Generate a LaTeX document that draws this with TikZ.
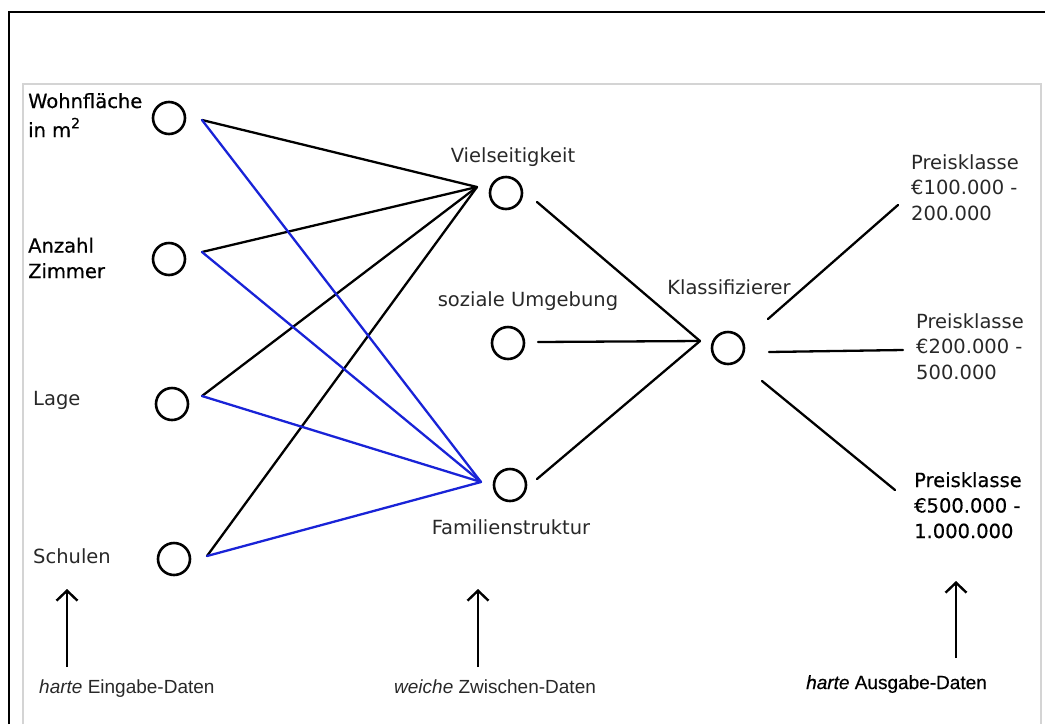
\documentclass[tikz,border=0pt]{standalone}
\usepackage{fontspec}
\setmainfont{DejaVu Sans}
\newfontfamily\heavyfont[FakeBold=0.5]{DejaVu Sans}
\newfontfamily\capfont{Liberation Sans}
\newfontfamily\heavycapfont[FakeBold=0.6]{Liberation Sans}
\usetikzlibrary{arrows.meta}
\definecolor{wireblue}{RGB}{25,35,215}
\definecolor{labelgray}{RGB}{40,40,40}
\definecolor{framegray}{RGB}{212,212,212}
\newcommand{\sqm}{m\raisebox{0.45em}{\fontsize{14}{14}\selectfont 2}}

\begin{document}
\begin{tikzpicture}[x=1pt,y=-1pt,
  nodes={font=\fontsize{19.5}{25.5}\selectfont, text=labelgray},
  unit/.style={draw=black,circle,line width=2.6pt,minimum size=32pt,inner sep=0pt},
  lbl/.style={inner sep=0pt,align=left},
  heavy/.style={text=black,font=\fontsize{19.5}{25.5}\heavyfont},
  caption/.style={font=\fontsize{19}{22}\capfont},
  wire/.style={line width=2.3pt,line cap=round},
  upmark/.style={line width=2.4pt,-{Straight Barb[length=10pt,width=21pt]}}]
\useasboundingbox (0,0) rectangle (1045,724);
% frames
\draw[framegray,line width=1.8pt] (23,724) -- (23,84) -- (1041,84) -- (1041,724);
\draw[black,line width=2.4pt] (9,724) -- (9,12) -- (1045,12);

% input layer
\node[unit] (wohn) at (169,118) {};
\node[unit] (zimm) at (169,259) {};
\node[unit] (lage) at (172,404) {};
\node[unit] (schul) at (174,559) {};
\node[lbl,heavy,anchor=base west] (wohn-t) at (28,108) {Wohnfläche};
\node[lbl,heavy,anchor=base west] (wohn-t2) at (28,137) {in \sqm};
\node[lbl,heavy,anchor=base west] (zimm-t) at (28,278) {Anzahl\\Zimmer};
\node[lbl,anchor=base west] (lage-t) at (33,405) {Lage};
\node[lbl,anchor=base west] (schul-t) at (33,563) {Schulen};

% hidden layer
\node[unit] (viel) at (506,193) {};
\node[unit] (soz) at (508,343) {};
\node[unit] (fam) at (510,485) {};
\node[lbl,anchor=base] (viel-t) at (513,162) {Vielseitigkeit};
\node[lbl,anchor=base] (soz-t) at (528,306) {soziale Umgebung};
\node[lbl,anchor=base] (fam-t) at (511,534) {Familienstruktur};

% output layer
\node[unit] (klass) at (728,348) {};
\node[lbl,anchor=base] (klass-t) at (729,294) {Klassifizierer};
\node[lbl,anchor=base west] (preis1) at (911,220) {Preisklasse\\€100.000 -\\200.000};
\node[lbl,anchor=base west] (preis2) at (916,379) {Preisklasse\\€200.000 -\\500.000};
\node[lbl,heavy,anchor=base west] (preis3) at (914,538) {Preisklasse\\€500.000 -\\1.000.000};

% wire ends
\coordinate (wohn-o) at (202,120);
\coordinate (zimm-o) at (202,252);
\coordinate (lage-o) at (202,396);
\coordinate (schul-o) at (207,556);
\coordinate (viel-i) at (477,187);
\coordinate (fam-i) at (481,482);
\coordinate (viel-o) at (537,202);
\coordinate (soz-o) at (538,342);
\coordinate (fam-o) at (537,479);
\coordinate (klass-i) at (700,341);
\coordinate (klass-o1) at (768,319);
\coordinate (klass-o2) at (769,352);
\coordinate (klass-o3) at (762,381);
\coordinate (preis1-i) at (898,205);
\coordinate (preis2-i) at (903,350);
\coordinate (preis3-i) at (895,490);

\foreach \src in {wohn,zimm,lage,schul}
  \draw[wire] (\src-o) -- (viel-i);
\foreach \src in {wohn,zimm,lage,schul}
  \draw[wire,wireblue] (\src-o) -- (fam-i);
\foreach \src in {viel,soz,fam}
  \draw[wire] (\src-o) -- (klass-i);
\foreach \k in {1,2,3}
  \draw[wire] (klass-o\k) -- (preis\k-i);

% bottom captions
\coordinate (in-foot) at (67,667);
\coordinate (in-tip) at (67,589);
\coordinate (mid-foot) at (478,667);
\coordinate (mid-tip) at (478,589);
\coordinate (out-foot) at (956,658);
\coordinate (out-tip) at (956,581);
\draw[upmark] (in-foot) -- (in-tip);
\draw[upmark] (mid-foot) -- (mid-tip);
\draw[upmark] (out-foot) -- (out-tip);
\node[lbl,caption,anchor=base west] (in-cap) at (39,693) {\textit{harte} Eingabe-Daten};
\node[lbl,caption,anchor=base west] (mid-cap) at (394,693) {\textit{weiche} Zwischen-Daten};
\node[lbl,text=black,font=\fontsize{19}{22}\heavycapfont,anchor=base west] (out-cap) at (806,689) {\textit{harte} Ausgabe-Daten};
\end{tikzpicture}
\end{document}
